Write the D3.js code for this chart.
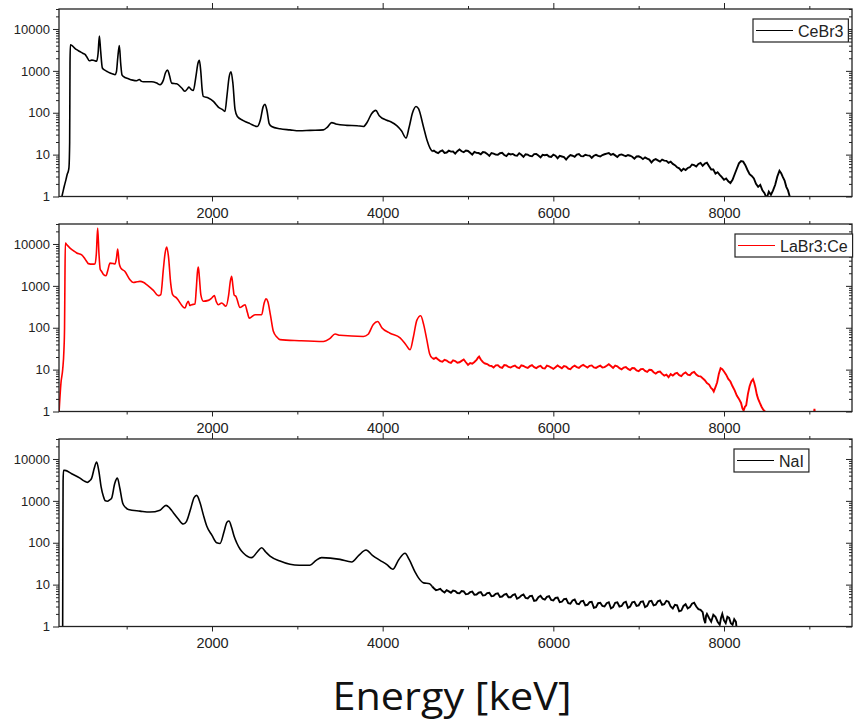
<!DOCTYPE html>
<html>
<head>
<meta charset="utf-8">
<script src="https://cdn.jsdelivr.net/npm/d3@7"></script>
<style>
  body { margin: 0; background: #fff; }
  text { font-family: "Liberation Sans", Arial, sans-serif; fill: #222; }
</style>
</head>
<body>
<svg id="chart" width="858" height="720"></svg>
<script>
/* globals d3 */
// tick labels
const energyMajor = [2000, 4000, 6000, 8000];
const energyMinor = [1000, 3000, 5000, 7000, 9000];
const countMajor = [1, 10, 100, 1000, 10000];

const detectors = ['CeBr3', 'LaBr3:Ce', 'NaI'];
const colours = ['#000000', '#ff0000', '#000000'];

// [energy keV, counts]
const cebr3 = [
  [230,0.8],[250,1.2],[270,1.8],[290,2.6],[305,3.5],[316,4.0],[324,5],[332,20],[336,1500],[340,4200],
  [360,4000],[390,3500],[414,3200],[450,2900],[490,2600],[515,2450],[530,2200],[563,1750],[590,1800],
  [609,1790],[648,1700],[665,2600],[680,6800],[695,3000],[715,1170],[740,1050],[766,980],[800,900],
  [840,840],[863,810],[880,950],[895,2000],[914,4000],[930,1500],[945,800],[961,740],[1020,650],
  [1070,600],[1117,580],[1148,620],[1170,570],[1195,550],[1293,550],[1352,510],[1391,465],[1430,600],
  [1455,900],[1480,1050],[1500,800],[1527,510],[1586,490],[1645,390],[1684,325],[1710,370],[1730,410],
  [1755,360],[1781,340],[1810,700],[1835,1500],[1852,1780],[1868,1000],[1885,350],[1898,245],[1957,225],
  [2016,187],[2045,160],[2074,136],[2120,120],[2152,108],[2175,250],[2200,700],[2223,950],[2245,500],
  [2270,120],[2297,81],[2367,65],[2445,55],[2531,47],[2565,65],[2600,140],[2621,160],[2645,110],
  [2670,55],[2699,47],[2797,41.5],[2914,39],[3023,37],[3150,38],[3305,39],[3350,45],[3403,58],
  [3450,54],[3579,50],[3700,49],[3774,47],[3820,60],[3870,95],[3919,114],[3960,85],[4048,66],
  [4100,60],[4165,49],[4220,37],[4274,25],[4310,45],[4350,100],[4391,141],[4420,125],[4477,47],
  [4520,22],[4555,14.3],[4580,12],
  [4600,12.5],[4625,11.4],[4650,10.8],[4675,12.0],[4700,12.6],[4725,11.0],[4750,11.2],[4775,12.4],
  [4800,11.8],[4825,11.9],[4850,10.6],[4875,12.1],[4900,13.2],[4925,12.0],[4950,11.4],[4975,12.5],
  [5000,12.2],[5025,11.1],[5050,10.0],[5075,11.6],[5100,11.0],[5125,10.9],[5150,10.2],[5175,11.5],
  [5200,11.3],[5225,10.4],[5250,9.3],[5275,10.9],[5300,10.6],[5325,10.0],[5350,9.9],[5375,10.8],
  [5400,11.0],[5425,9.8],[5450,9.2],[5475,10.6],[5500,10.1],[5525,10.4],[5550,9.6],[5575,9.4],
  [5600,10.8],[5625,9.9],[5650,8.8],[5675,10.2],[5700,10.0],[5725,9.3],[5750,9.1],[5775,10.3],
  [5800,10.4],[5825,9.5],[5850,8.6],[5875,9.9],[5900,9.7],[5925,9.9],[5950,9.0],[5975,8.8],
  [6000,10.0],[6025,9.4],[6050,8.2],[6075,9.3],[6100,9.0],[6125,8.7],[6150,7.6],[6175,8.8],
  [6200,9.8],[6225,9.4],[6250,8.9],[6275,10.0],[6300,10.3],[6325,9.2],[6350,9.1],[6375,9.9],
  [6400,9.6],[6425,9.5],[6450,8.4],[6475,9.4],[6500,9.9],[6525,9.3],[6550,9.0],[6575,9.8],
  [6600,10.2],[6625,10.6],[6650,10.9],[6675,9.9],[6700,10.4],[6725,9.6],[6750,8.8],[6775,9.9],
  [6800,10.1],[6825,9.6],[6850,9.2],[6875,9.8],[6900,9.4],[6925,8.9],[6950,8.0],[6975,9.0],
  [7000,9.1],[7025,8.6],[7050,7.8],[7075,8.6],[7100,8.0],[7125,7.6],[7150,6.5],[7175,7.4],
  [7200,7.8],[7225,7.3],[7250,6.8],[7275,7.6],[7300,7.2],[7325,7.1],[7350,6.4],[7375,6.8],
  [7400,6.0],[7425,5.6],[7450,5.0],[7475,4.7],[7500,4.1],[7525,4.6],[7550,4.3],[7575,4.8],
  [7600,5.0],[7625,5.8],[7650,5.6],[7675,5.2],[7700,6.0],[7725,6.3],[7750,5.4],[7775,6.1],
  [7800,6.4],[7825,5.3],[7850,4.4],[7875,4.4],[7900,3.5],[7925,3.8],[7950,3.3],[7975,2.9],
  [8000,2.5],[8025,2.7],[8050,2.3],[8075,2.1],[8100,2.5],[8125,3.4],[8150,4.6],[8175,6.2],
  [8200,7.0],[8225,6.8],[8250,5.6],[8275,4.3],[8300,3.4],[8325,3.1],[8350,2.7],[8375,2.0],
  [8400,1.7],[8425,1.9],[8450,1.4],[8475,1.2],[8500,0.9],[8525,1.3],[8550,1.1],[8575,1.4],
  [8600,1.9],[8625,3.0],[8650,4.1],[8670,3.6],[8690,2.9],[8710,2.4],[8730,1.7],[8750,1.4],
  [8770,1.0],[8790,0.6]
];

const labr3 = [
  [207,0.9],[230,4.8],[250,10],[265,30],[272,100],[276,1000],[281,10500],[300,9500],[336,8000],
  [380,6800],[414,6100],[473,5500],[512,4380],[540,3600],[551,3400],[600,3300],[629,3330],[645,6000],
  [660,24000],[675,6000],[690,2500],[707,2200],[730,1850],[758,1740],[780,2400],[805,3500],[845,3400],
  [863,3330],[880,4500],[895,7600],[912,3500],[930,2700],[980,2200],[1039,1400],[1078,1200],[1120,1250],
  [1156,1280],[1200,1200],[1234,1070],[1280,900],[1313,780],[1371,585],[1400,620],[1430,2500],
  [1450,6000],[1469,8500],[1490,5000],[1515,1200],[1539,620],[1586,510],[1684,295],[1705,380],
  [1723,430],[1740,340],[1762,355],[1801,370],[1815,800],[1830,2200],[1840,2800],[1852,1600],
  [1870,600],[1898,430],[1957,450],[2000,520],[2027,585],[2050,420],[2074,355],[2113,390],[2164,325],
  [2195,600],[2215,1300],[2230,1700],[2245,1000],[2260,600],[2281,560],[2328,305],[2360,330],
  [2387,355],[2415,230],[2437,170],[2504,205],[2582,205],[2610,380],[2633,490],[2655,420],[2685,200],
  [2719,82],[2760,60],[2797,52],[3023,49],[3305,47],[3380,55],[3442,71],[3500,66],[3774,62],
  [3830,70],[3890,120],[3942,141],[3990,100],[4086,74],[4204,57],[4270,40],[4321,29.7],[4360,60],
  [4400,150],[4446,194],[4480,120],[4517,52],[4550,24],[4580,19],
  [4600,18],[4625,19.2],[4650,17.5],[4675,16.0],[4700,15.5],[4725,17.2],[4750,16.5],[4775,15.0],
  [4800,14.5],[4825,16.6],[4850,16.0],[4875,14.6],[4900,15.0],[4925,16.2],[4950,17.5],[4975,15.0],
  [5000,13.0],[5025,14.4],[5050,13.8],[5075,15.2],[5100,17.0],[5115,19.0],[5130,20.5],[5150,17.4],
  [5170,15.5],[5185,14.6],[5200,14.0],[5225,13.6],[5250,12.5],[5275,12.2],[5300,11.2],[5325,12.6],
  [5350,12.8],[5375,11.4],[5400,11.0],[5425,12.8],[5450,12.6],[5475,11.6],[5500,11.2],[5525,12.0],
  [5550,12.5],[5575,11.3],[5600,10.8],[5625,12.6],[5650,12.2],[5675,11.4],[5700,11.0],[5725,12.1],
  [5750,12.8],[5775,11.5],[5800,10.9],[5825,11.8],[5850,12.3],[5875,10.8],[5900,10.6],[5925,12.4],
  [5950,12.0],[5975,11.2],[6000,10.4],[6025,11.4],[6050,12.6],[6075,11.6],[6100,10.8],[6125,12.1],
  [6150,11.8],[6175,10.6],[6200,10.2],[6225,11.6],[6250,12.4],[6275,11.5],[6300,11.0],[6325,12.2],
  [6350,13.0],[6375,12.0],[6400,11.2],[6425,12.3],[6450,12.6],[6475,11.3],[6500,11.0],[6525,11.8],
  [6550,12.4],[6575,11.2],[6600,11.5],[6625,12.4],[6650,13.5],[6675,12.2],[6700,11.0],[6725,12.5],
  [6750,12.0],[6775,10.8],[6800,10.2],[6825,11.2],[6850,11.5],[6875,10.4],[6900,9.8],[6925,10.9],
  [6950,10.8],[6975,9.6],[7000,9.2],[7025,10.2],[7050,10.4],[7075,9.3],[7100,8.8],[7125,9.9],
  [7150,9.8],[7175,8.7],[7200,8.0],[7225,8.8],[7250,9.0],[7275,7.9],[7300,7.2],[7325,7.6],
  [7350,6.6],[7375,7.8],[7400,7.2],[7425,8.0],[7450,8.4],[7475,7.4],[7500,7.0],[7525,8.0],
  [7550,8.6],[7575,7.6],[7600,7.4],[7625,8.4],[7650,8.8],[7675,7.6],[7700,7.0],[7725,6.9],
  [7750,6.2],[7775,5.6],[7800,4.8],[7825,4.4],[7850,3.6],[7865,3.4],[7880,3.0],[7900,3.8],
  [7920,5.0],[7940,8.0],[7960,10.8],[7980,10.2],[8000,9.0],[8025,7.6],[8050,6.0],[8075,5.2],
  [8100,4.0],[8125,3.2],[8150,2.4],[8175,2.0],[8200,1.6],[8215,1.2],[8230,1.05],[8245,1.3],
  [8260,1.4],[8280,2.6],[8300,4.0],[8320,5.2],[8340,5.9],[8355,4.8],[8370,3.6],[8385,2.5],
  [8400,2.0],[8420,1.6],[8440,1.3],[8460,1.1],[8480,1.0],[8500,0.5],[9040,0.5],[9060,1.15],
  [9080,0.5]
];

const nai = [
  [248,0.5],[250,1],[252,100],[255,3000],[260,5350],[277,5350],[355,4450],[453,3500],[500,3000],
  [539,2770],[565,3000],[590,3500],[620,6000],[648,8500],[675,5000],[700,2200],[727,1290],[750,1000],
  [773,980],[800,1050],[824,1170],[860,2600],[891,3500],[920,2000],[953,890],[985,700],[1020,620],
  [1156,570],[1273,540],[1391,600],[1461,780],[1500,690],[1547,520],[1600,380],[1664,280],[1700,320],
  [1750,650],[1790,1200],[1820,1350],[1860,900],[1900,450],[1938,250],[2000,150],[2055,100],[2094,96],
  [2140,180],[2175,310],[2199,330],[2230,230],[2260,140],[2289,100],[2330,70],[2367,57],[2465,44],
  [2530,60],[2582,76],[2630,60],[2680,48],[2797,36.6],[2914,30.5],[3023,29],[3148,29],[3220,38],
  [3285,44],[3500,40],[3637,34.7],[3720,50],[3805,67],[3880,50],[3969,38],[4050,30],[4118,23.2],
  [4190,40],[4262,56],[4310,40],[4380,20],[4418,14.7],[4480,11],[4550,10.5],[4580,9],
  [4600,8.2],[4625,7.4],[4650,7.6],[4675,7.9],[4700,7.0],[4725,6.5],[4750,7.4],[4775,6.9],
  [4800,6.4],[4825,7.2],[4850,7.0],[4875,6.3],[4900,6.2],[4925,7.0],[4950,6.9],[4975,5.9],
  [5000,6.0],[5025,6.6],[5050,6.8],[5075,5.7],[5100,5.8],[5125,6.4],[5150,6.6],[5175,5.5],
  [5200,5.6],[5225,6.3],[5250,6.4],[5275,5.3],[5300,5.4],[5325,6.0],[5350,6.2],[5375,5.1],
  [5400,5.2],[5425,5.8],[5450,6.0],[5475,5.0],[5500,5.0],[5525,5.6],[5550,5.9],[5575,4.6],
  [5600,4.9],[5625,5.5],[5650,5.8],[5675,4.8],[5700,4.7],[5725,5.3],[5750,5.4],[5775,4.1],
  [5800,4.2],[5825,5.0],[5850,5.4],[5875,4.6],[5900,4.4],[5925,5.1],[5950,5.3],[5975,4.3],
  [6000,4.2],[6025,4.8],[6050,4.9],[6075,3.8],[6100,3.9],[6125,4.5],[6150,4.6],[6175,3.6],
  [6200,3.5],[6225,4.2],[6250,4.4],[6275,3.5],[6300,3.4],[6325,4.0],[6350,4.1],[6375,3.2],
  [6400,3.3],[6425,3.8],[6450,3.9],[6475,2.8],[6500,2.9],[6525,3.6],[6550,3.7],[6575,3.1],
  [6600,3.0],[6625,3.6],[6650,3.8],[6675,2.7],[6700,2.9],[6725,3.7],[6750,3.8],[6775,3.0],
  [6800,3.1],[6825,3.7],[6850,3.9],[6875,2.8],[6900,3.0],[6925,3.8],[6950,3.9],[6975,3.1],
  [7000,3.2],[7025,3.9],[7050,4.0],[7075,2.9],[7100,3.1],[7125,4.0],[7150,4.1],[7175,3.2],
  [7200,3.3],[7225,4.0],[7250,4.2],[7275,3.3],[7300,3.4],[7325,4.1],[7350,3.9],[7375,3.0],
  [7400,2.7],[7425,3.3],[7450,3.2],[7475,2.3],[7500,2.4],[7525,3.1],[7550,3.4],[7575,2.7],
  [7600,2.9],[7625,3.5],[7650,3.7],[7675,3.0],[7700,2.6],[7725,2.5],[7750,2.2],[7765,1.5],
  [7780,1.2],[7790,1.8],[7800,2.0],[7825,1.6],[7850,1.3],[7875,1.9],[7900,1.7],[7925,1.3],
  [7950,1.1],[7965,1.6],[7980,2.0],[8000,1.4],[8020,1.2],[8040,1.7],[8060,1.6],[8080,1.2],
  [8100,1.1],[8120,1.5],[8140,1.3],[8150,0.8]
];

const spectra = [cebr3, labr3, nai];
const noiseFrom = 4580; // above this the spectra turn into a noisy band

// layout
const left = 59, right = 852;
const panelTops = [9, 224, 439];
const panelHeight = 187.5;
const legendX = [753, 735, 734];

const svg = d3.select('#chart');

const x = d3.scaleLinear().domain([207, 9500]).range([left, right]);

const countMinor = [];
[1, 10, 100, 1000, 10000].forEach(d => {
  for (let k = 2; k <= 9; k++) {
    if (d * k <= 30000) countMinor.push(d * k);
  }
});

detectors.forEach((name, i) => {
  const top = panelTops[i];
  const bottom = top + panelHeight;
  const y = d3.scaleLog().domain([1, 30000]).range([bottom, top]);
  const g = svg.append('g').attr('class', 'panel');

  g.append('clipPath').attr('id', 'clip' + i)
    .append('rect')
    .attr('x', left).attr('y', top)
    .attr('width', right - left).attr('height', panelHeight);

  // spectrum: smooth part with rounded peaks, noisy tail drawn jagged
  const smoothLine = d3.line()
    .x(d => x(d[0]))
    .y(d => y(d[1]))
    .curve(d3.curveMonotoneX);
  const noisyLine = d3.line()
    .x(d => x(d[0]))
    .y(d => y(d[1]));

  g.append('path')
    .datum(spectra[i].filter(d => d[0] <= noiseFrom))
    .attr('clip-path', 'url(#clip' + i + ')')
    .attr('fill', 'none')
    .attr('stroke', colours[i])
    .attr('stroke-width', 1.6)
    .attr('stroke-linejoin', 'round')
    .attr('d', smoothLine);

  g.append('path')
    .datum(spectra[i].filter(d => d[0] >= noiseFrom))
    .attr('clip-path', 'url(#clip' + i + ')')
    .attr('fill', 'none')
    .attr('stroke', colours[i])
    .attr('stroke-width', 1.9)
    .attr('stroke-linejoin', 'miter')
    .attr('d', noisyLine);

  // axes
  const bottomMajor = d3.axisBottom(x).tickValues(energyMajor).tickSize(5).tickPadding(6).tickFormat(d3.format('d'));
  const bottomMinor = d3.axisBottom(x).tickValues(energyMinor).tickSize(3).tickFormat('');
  const topMajor = d3.axisTop(x).tickValues(energyMajor).tickSize(6).tickFormat('');
  const topMinor = d3.axisTop(x).tickValues(energyMinor).tickSize(3).tickFormat('');
  const leftMajor = d3.axisLeft(y).tickValues(countMajor).tickSize(6).tickPadding(3).tickFormat(d3.format('d'));
  const leftMinor = d3.axisLeft(y).tickValues(countMinor).tickSize(3).tickFormat('');
  const rightMajor = d3.axisRight(y).tickValues(countMajor).tickSize(-6).tickFormat('');
  const rightMinor = d3.axisRight(y).tickValues(countMinor).tickSize(-3).tickFormat('');

  const axes = [
    [bottomMajor, 0, bottom, 'xlab'], [bottomMinor, 0, bottom],
    [topMajor, 0, top], [topMinor, 0, top],
    [leftMajor, left, 0, 'ylab'], [leftMinor, left, 0],
    [rightMajor, right, 0], [rightMinor, right, 0]
  ];
  axes.forEach(([ax, tx, ty, cls]) => {
    const a = g.append('g')
      .attr('class', cls || null)
      .attr('transform', 'translate(' + tx + ',' + ty + ')')
      .call(ax);
    a.select('.domain').remove();
    a.selectAll('line').attr('stroke', '#222').attr('stroke-width', 1);
  });

  g.selectAll('.tick text').attr('fill', '#222').style('font-family', '"Liberation Sans", Arial, sans-serif');
  g.selectAll('.xlab text').style('font-size', '14.5px');
  g.selectAll('.ylab text').style('font-size', '13px');

  // frame
  g.append('rect')
    .attr('x', left).attr('y', top)
    .attr('width', right - left).attr('height', panelHeight)
    .attr('fill', 'none').attr('stroke', '#222').attr('stroke-width', 1.3);

  // legend
  const lx = legendX[i], ly = top + 10;
  const leg = g.append('g');
  const box = leg.append('rect')
    .attr('x', lx).attr('y', ly).attr('height', 23)
    .attr('fill', '#fff').attr('stroke', '#222').attr('stroke-width', 1.2);
  leg.append('line')
    .attr('x1', lx + 3).attr('x2', lx + 40)
    .attr('y1', ly + 11.5).attr('y2', ly + 11.5)
    .attr('stroke', colours[i]).attr('stroke-width', 1.2);
  const t = leg.append('text')
    .attr('x', lx + 45).attr('y', ly + 17.5)
    .style('font-size', '16px')
    .text(name);
  box.attr('width', t.node().getComputedTextLength() + 50);
});

// axis title
svg.append('text')
  .attr('x', 452).attr('y', 710)
  .attr('text-anchor', 'middle')
  .attr('textLength', 239)
  .attr('lengthAdjust', 'spacingAndGlyphs')
  .style('font-family', '"Open Sans", "Noto Sans", sans-serif')
  .style('font-size', '38px')
  .style('fill', '#111')
  .text('Energy [keV]');
</script>
</body>
</html>
